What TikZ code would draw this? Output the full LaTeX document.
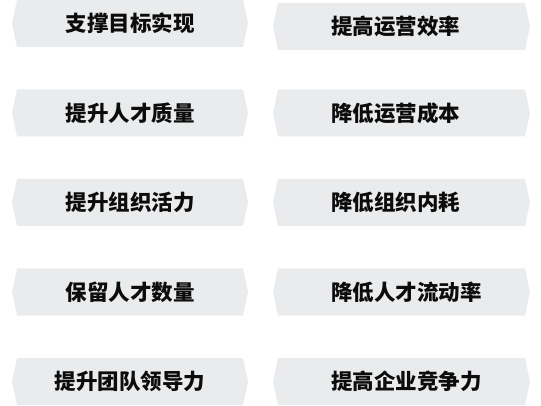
\documentclass[tikz,border=0pt]{standalone}
\usepackage{fontspec}
\newfontfamily\cjk{Noto Sans CJK SC}[BoldFont={Noto Sans CJK SC Black}]
\usetikzlibrary{shapes.symbols}
\definecolor{boxgrey}{RGB}{233,235,236}
\definecolor{boxtext}{RGB}{12,12,12}
\newcommand{\lefttext}[1]{\makebox[141pt][l]{#1}}

\begin{document}
\begin{tikzpicture}[x=1pt, y=-1pt,
    goal/.style={signal, signal to=west and east, signal pointer angle=156,
        fill=boxgrey, draw=none, inner sep=0pt, minimum height=47pt,
        text=boxtext, font=\cjk\bfseries\fontsize{21.5}{22}\selectfont},
    leftgoal/.style={goal, minimum width=236pt},
    rightgoal/.style={goal, minimum width=257pt}]
    \useasboundingbox (0,0) rectangle (541,406);

    \node[leftgoal] (l1) at (130, 23.5) {支撑目标实现};
    \node[leftgoal] (l2) at (130, 113) {提升人才质量};
    \node[leftgoal] (l3) at (130, 202.5) {提升组织活力};
    \node[leftgoal] (l4) at (130, 292) {保留人才数量};
    \node[leftgoal] (l5) at (130, 381.5) {提升团队领导力};

    % right column: text starts at the same left edge
    \node[rightgoal] (r1) at (401.5, 26.5) {\lefttext{提高运营效率}};
    \node[rightgoal] (r2) at (401.5, 113) {\lefttext{降低运营成本}};
    \node[rightgoal] (r3) at (401.5, 202.5) {\lefttext{降低组织内耗}};
    \node[rightgoal] (r4) at (401.5, 292) {\lefttext{降低人才流动率}};
    \node[rightgoal] (r5) at (401.5, 381.5) {\lefttext{提高企业竞争力}};
\end{tikzpicture}
\end{document}
